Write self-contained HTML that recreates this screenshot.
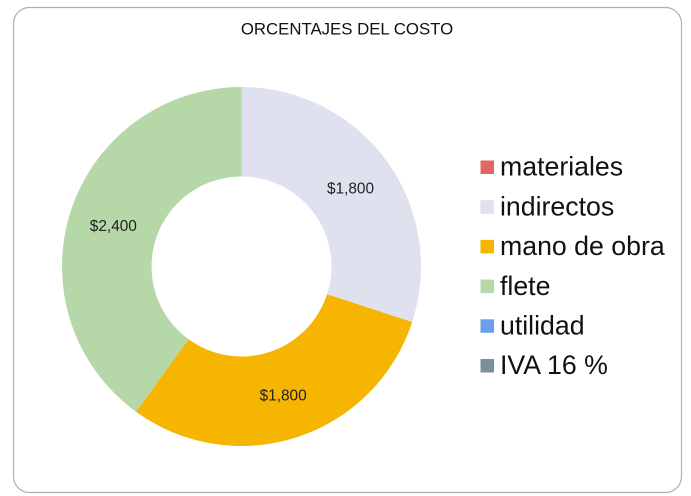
<!DOCTYPE html>
<html lang="es">
<head>
<meta charset="utf-8">
<title>Porcentajes del costo</title>
<style>
html,body{margin:0;padding:0;background:#fff;width:691px;height:496px;overflow:hidden}
svg{display:block}
text{font-family:"Liberation Sans",sans-serif}
</style>
</head>
<body>
<svg id="chart" width="691" height="496" viewBox="0 0 691 496" xmlns="http://www.w3.org/2000/svg">
  <rect x="13.5" y="7.5" width="668" height="485" rx="16" ry="16" fill="#fff" stroke="#b0b0b0" stroke-width="1.2"/>
  <text x="347" y="34.5" text-anchor="middle" font-size="16.8" fill="#111">ORCENTAJES DEL COSTO</text>
  <g id="slices"></g>
  <g id="labels"></g>
  <g id="legend"></g>
</svg>
<script>
const categories = ["materiales", "indirectos", "mano de obra", "flete", "utilidad", "IVA 16 %"];
const values = [0, 1800, 1800, 2400, 0, 0];
const colors = ["#E36666", "#DFE1EF", "#F6B500", "#B6D7A8", "#6D9EEB", "#7A8F9C"];

const NS = "http://www.w3.org/2000/svg";
const cx = 241.5, cy = 266.5, outerR = 179.5, innerR = 90;
const total = values.reduce(function (a, b) { return a + b; }, 0);

function angleOf(v) { return v / total * Math.PI * 2; }
function pt(r, a) { return [cx + r * Math.sin(a), cy - r * Math.cos(a)]; }
function fmt(v) { return "$" + v.toLocaleString("en-US"); }
function slicePath(a0, a1) {
  const large = a1 - a0 > Math.PI ? 1 : 0;
  const p0 = pt(outerR, a0), p1 = pt(outerR, a1), p2 = pt(innerR, a1), p3 = pt(innerR, a0);
  return "M" + p0[0] + " " + p0[1] +
    "A" + outerR + " " + outerR + " 0 " + large + " 1 " + p1[0] + " " + p1[1] +
    "L" + p2[0] + " " + p2[1] +
    "A" + innerR + " " + innerR + " 0 " + large + " 0 " + p3[0] + " " + p3[1] + "Z";
}

const sliceGroup = document.getElementById("slices");
const labelGroup = document.getElementById("labels");
const legendGroup = document.getElementById("legend");

let start = 0;
values.forEach(function (v, i) {
  if (v > 0) {
    const sweep = angleOf(v);
    const end = start + sweep;
    const path = document.createElementNS(NS, "path");
    path.setAttribute("d", sweep >= Math.PI * 2 - 1e-6 ? slicePath(0, Math.PI * 2 - 0.0001) : slicePath(start, end));
    path.setAttribute("fill", colors[i]);
    
    
    sliceGroup.appendChild(path);

    const mid = pt((outerR + innerR) / 2, (start + end) / 2);
    const label = document.createElementNS(NS, "text");
    label.setAttribute("x", mid[0]);
    label.setAttribute("y", mid[1] + 6);
    label.setAttribute("text-anchor", "middle");
    label.setAttribute("font-size", "15.4");
    label.setAttribute("fill", "#222");
    label.textContent = fmt(v);
    
    
    labelGroup.appendChild(label);
    start = end;
  }
});

categories.forEach(function (name, i) {
  const rowY = 167 + i * 39.7;
  const entry = document.createElementNS(NS, "g");
  
  

  const swatch = document.createElementNS(NS, "rect");
  swatch.setAttribute("x", 480.5);
  swatch.setAttribute("y", rowY - 6.5);
  swatch.setAttribute("width", 13.5);
  swatch.setAttribute("height", 13.5);
  swatch.setAttribute("fill", colors[i]);
  
  
  entry.appendChild(swatch);

  const text = document.createElementNS(NS, "text");
  text.setAttribute("x", 500);
  text.setAttribute("y", rowY + 8.7);
  text.setAttribute("font-size", "26.7");
  text.setAttribute("fill", "#111");
  text.textContent = name;
  
  
  entry.appendChild(text);

  legendGroup.appendChild(entry);
});
</script>
</body>
</html>
